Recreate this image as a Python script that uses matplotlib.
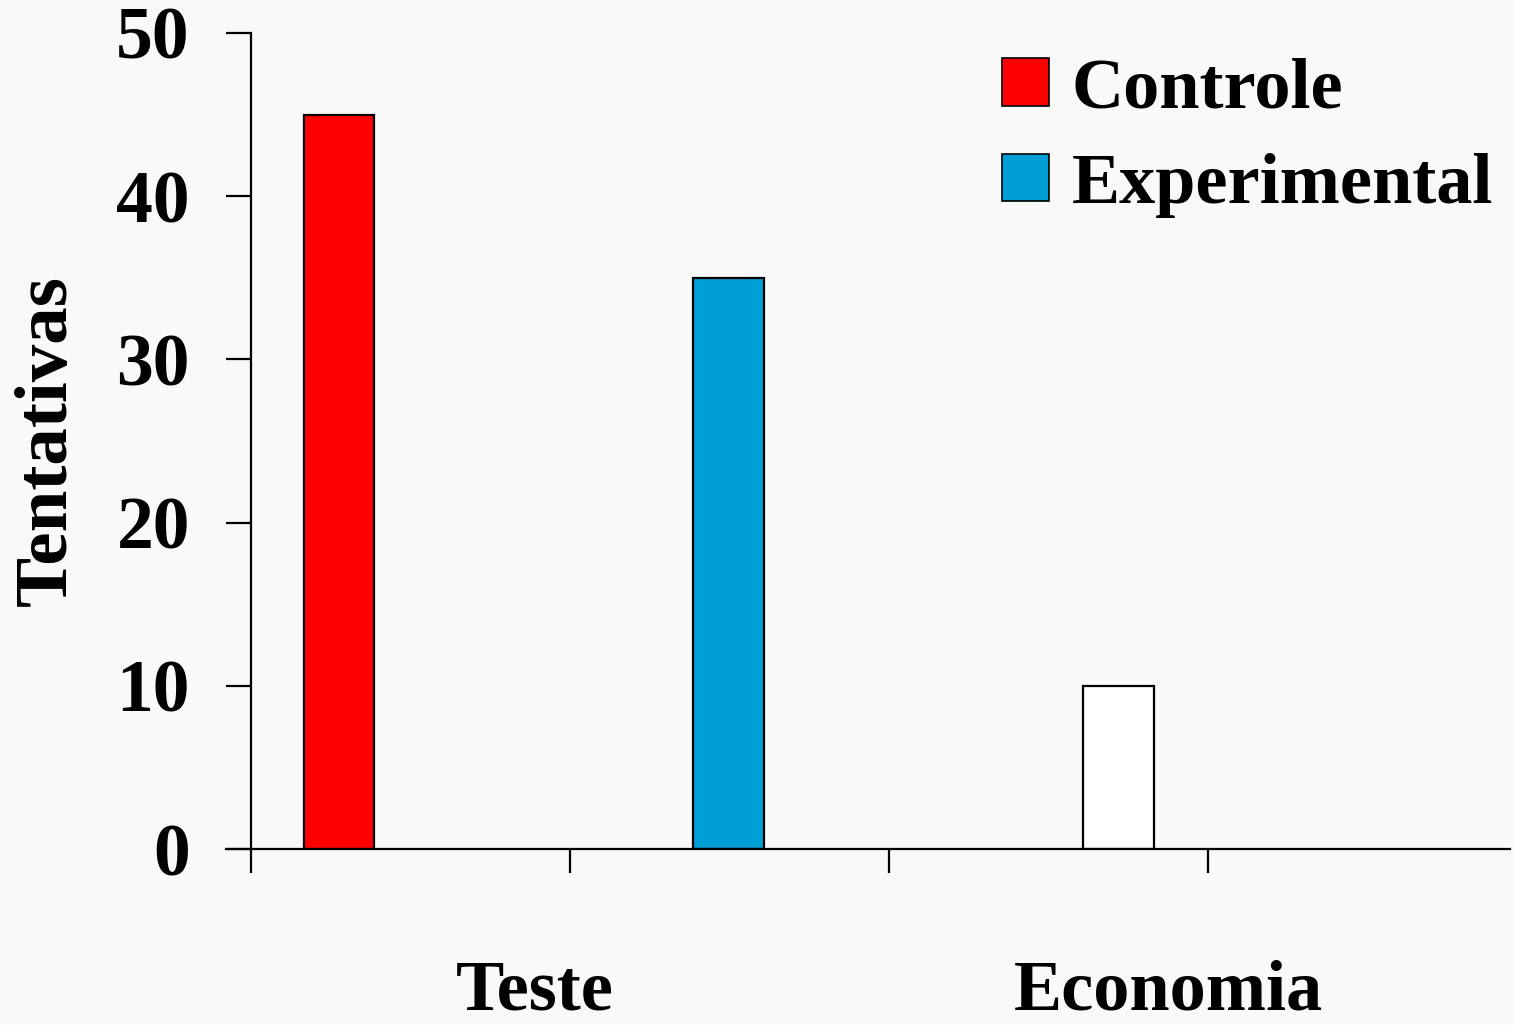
import matplotlib
matplotlib.use("Agg")
import matplotlib.pyplot as plt
from matplotlib.patches import Patch
from matplotlib.transforms import blended_transform_factory

# Data
series_names = ["Controle", "Experimental"]
bar_values = [45, 35, 10]
bar_positions = [0.276, 1.498, 2.72]
bar_colors = ["#ff0000", "#009ed6", "#ffffff"]
category_labels = ["Teste", "Economia"]
category_positions = [0.89, 2.875]
y_ticks = [0, 10, 20, 30, 40, 50]
x_ticks = [0, 1, 2, 3]

plt.rcParams["font.family"] = ["Liberation Serif", "DejaVu Serif"]
plt.rcParams["font.weight"] = "bold"

bg = "#f9f9f9"
fig = plt.figure(figsize=(15.13, 10.25), dpi=100, facecolor=bg)
ax = fig.add_axes([251 / 1513, 1 - 849 / 1025, (1510 - 251) / 1513, (849 - 33) / 1025])
ax.set_facecolor(bg)

ax.bar(bar_positions, bar_values, width=0.222, color=bar_colors,
       edgecolor="black", linewidth=1.6, zorder=3)

ax.set_xlim(0, 3.947)
ax.set_ylim(0, 50)

for s in ["top", "right"]:
    ax.spines[s].set_visible(False)
ax.spines["left"].set_linewidth(1.6)
ax.spines["bottom"].set_linewidth(1.6)
ax.spines["bottom"].set_zorder(4)

ax.set_yticks(y_ticks)
ax.set_yticklabels([str(v) for v in y_ticks], fontsize=53, fontweight="bold")
ax.set_xticks(x_ticks)
ax.set_xticklabels([])
ax.tick_params(axis="y", direction="out", length=18, width=1.6, pad=26)
ax.tick_params(axis="x", direction="out", length=17, width=1.6)

# baseline extends left of the spine like the zero tick
ax.plot([-0.078, 0], [0, 0], color="black", lw=1.6, clip_on=False, zorder=4)

ax.set_ylabel("Tentativas", fontsize=54, fontweight="bold", labelpad=25)

trans = blended_transform_factory(ax.transData, fig.transFigure)
for lab, pos in zip(category_labels, category_positions):
    ax.text(pos, 1 - 992 / 1025, lab, transform=trans, ha="center", va="center",
            fontsize=52, fontweight="bold")

handles = [Patch(facecolor=bar_colors[i], edgecolor="black", linewidth=1.2)
           for i in range(len(series_names))]
leg = ax.legend(handles, series_names, loc="upper left",
                bbox_to_anchor=((988 - 251) / 1259, 1 - 10 / 816),
                frameon=False, prop={"weight": "bold", "size": 52},
                handlelength=0.64, handleheight=0.64, handletextpad=0.32,
                labelspacing=0.42, borderaxespad=0.0, borderpad=0.2)

fig.savefig("out.png", dpi=100, facecolor=bg)
